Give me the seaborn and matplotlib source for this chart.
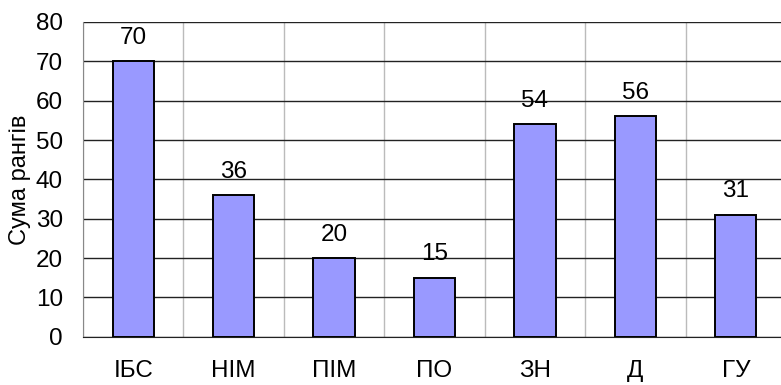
import numpy as np
import pandas as pd
import seaborn as sns
import matplotlib.pyplot as plt
from matplotlib.ticker import MultipleLocator

# chart data
categories = ['ІБС', 'НІМ', 'ПІМ', 'ПО', 'ЗН', 'Д', 'ГУ']
rank_sums = [70, 36, 20, 15, 54, 56, 31]
y_label = 'Сума рангів'

df = pd.DataFrame({'cat': categories, 'val': rank_sums})

sns.set_style('white')
plt.rcParams['font.family'] = ['Liberation Sans', 'DejaVu Sans']
plt.rcParams['text.color'] = 'black'
plt.rcParams['xtick.labelcolor'] = 'black'
plt.rcParams['ytick.labelcolor'] = 'black'
plt.rcParams['axes.labelcolor'] = 'black'

fig = plt.figure(figsize=(7.81, 3.85), dpi=100)
ax = fig.add_axes([83 / 781, 48.3 / 385, 703 / 781, 314.7 / 385])

sns.barplot(data=df, x='cat', y='val', color='#9999FF', saturation=1,
            edgecolor='black', linewidth=1.4, width=0.41, ax=ax, zorder=3)

ax.set_xlim(-0.5, len(categories) - 0.5)
ax.set_ylim(0, 80)
ax.yaxis.set_major_locator(MultipleLocator(10))

# horizontal grid (dark) and vertical grid between categories (light)
ax.grid(axis='y', color='#222222', linewidth=1.0, zorder=1)
ax.set_xticks(np.arange(len(categories)))
ax.set_xticklabels(categories)
ax.set_xticks(np.arange(len(categories) + 1) - 0.5, minor=True)
ax.grid(axis='x', which='minor', color='#bbbbbb', linewidth=1.0, zorder=1)
ax.tick_params(axis='x', which='major', length=0, pad=17, labelsize=17.5)
ax.tick_params(axis='x', which='minor', length=7, color='#888888', width=1)
ax.tick_params(axis='y', length=6, color='#555555', width=1, labelsize=17.5, pad=8.5)
for g in ax.get_ygridlines()[-1:]:
    g.set_visible(False)

for side in ['top', 'right']:
    ax.spines[side].set_visible(False)
ax.spines['left'].set_color('#888888')
ax.spines['bottom'].set_color('#222222')
ax.spines['left'].set_zorder(2)

for i, v in enumerate(rank_sums):
    ax.annotate(str(v), (i, v), xytext=(0, 9), textcoords='offset points',
                ha='center', va='bottom', fontsize=17.5)

ax.set_xlabel('')
ax.set_ylabel(y_label, fontsize=17, va='center')
ax.yaxis.set_label_coords((20 - 83) / 703, (336.7 - 180) / 314.7)

fig.savefig('out.png', dpi=100)
